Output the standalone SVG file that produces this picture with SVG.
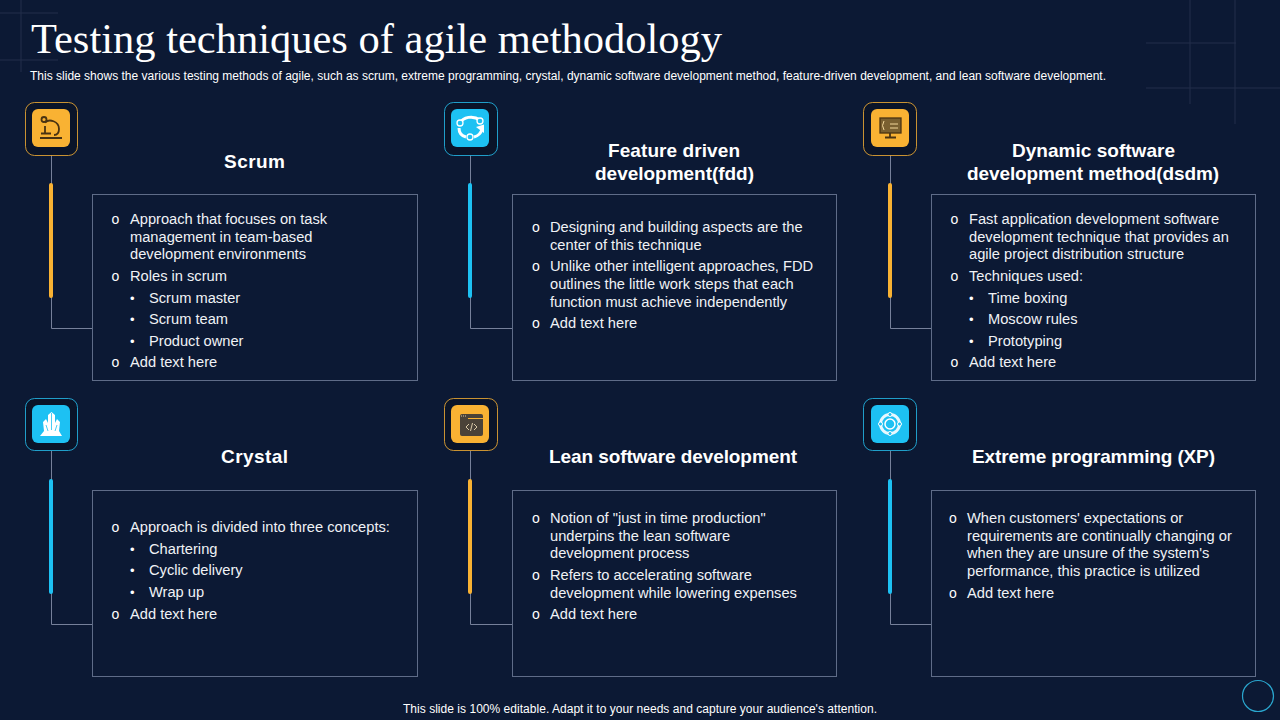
<svg xmlns="http://www.w3.org/2000/svg" width="1280" height="720" viewBox="0 0 1280 720">
<style>
text{font-family:"Liberation Sans",Arial,sans-serif;fill:#fff}
.t{font-size:14.67px;fill:#f0f2f6}
.o{font-size:14px;fill:#fff}
.b{font-size:13px;fill:#fff}
.h{font-size:19px;font-weight:bold}
.box{fill:none;stroke:#5f6c88;stroke-width:1}
.ln{fill:none;stroke:#76809a;stroke-width:1}
.bg{fill:none;stroke:#222f4a;stroke-width:1}
.oc{fill:#0a1429;stroke:#f9b233;stroke-width:1;stroke-opacity:.8}
.bc{fill:#0a1429;stroke:#25c0f0;stroke-width:1;stroke-opacity:.8}
.of{fill:#f9b233}
.bf{fill:#1dc1f3}
.di{fill:none;stroke:#4a3312;stroke-width:1.800}
.wi{fill:none;stroke:#fff;stroke-width:1.800}
</style>
<rect width="1280" height="720" fill="#0c1934"/>
<g id="decor">
<path class="bg" d="M0 13H58M0 60H58M21 0V72M1146 43H1236M1146 88H1280M1190 0V104M1235 0V124"/>
<circle cx="1258" cy="696" r="15.500" fill="none" stroke="#2aa7cf" stroke-width="1.200"/>
</g>
<g id="header">
<text x="31" y="53" font-size="42.5" style="font-family:'Liberation Serif',serif">Testing techniques of agile methodology</text>
<text x="30" y="80" font-size="12" textLength="1076" fill="#fff">This slide shows the various testing methods of agile, such as scrum, extreme programming, crystal, dynamic software development method, feature-driven development, and lean software development.</text>
</g>
<g id="connectors">
<path class="ln" d="M51.500 155V328.500H92M470.500 155V328.500H512M890.500 155V328.500H931M51.500 451V624.500H92M470.500 451V624.500H512M890.500 451V624.500H931"/>
<g>
<rect x="49" y="183" width="4" height="115" rx="2" class="of"/>
<rect x="468" y="183" width="4" height="115" rx="2" class="bf"/>
<rect x="888" y="183" width="4" height="115" rx="2" class="of"/>
<rect x="49" y="479" width="4" height="115" rx="2" class="bf"/>
<rect x="468" y="479" width="4" height="115" rx="2" class="of"/>
<rect x="888" y="479" width="4" height="115" rx="2" class="bf"/>
</g>
</g>
<g id="scrum">
<rect class="oc" x="25.500" y="102.500" width="52" height="53" rx="9"/>
<rect class="of" x="32" y="109" width="38" height="38" rx="6"/>
<path class="di" d="M40 138H62M41 133.500H51M45 133V126M45 122.500C49 118.500 59 121 59 129C59 133 57 135 54 135"/>
<circle class="di" cx="44" cy="119.500" r="2.500"/>
<text class="h" x="224" y="167.500" textLength="61">Scrum</text>
<rect class="box" x="92.500" y="194.500" width="325" height="186"/>
<text class="o" x="111.500" y="224">o</text><text class="t" x="130" y="224">Approach that focuses on task</text>
<text class="t" x="130" y="242">management in team-based</text>
<text class="t" x="130" y="259">development environments</text>
<text class="o" x="111.500" y="281">o</text><text class="t" x="130" y="281">Roles in scrum</text>
<text class="b" x="130" y="303">•</text><text class="t" x="149" y="303">Scrum master</text>
<text class="b" x="130" y="324">•</text><text class="t" x="149" y="324">Scrum team</text>
<text class="b" x="130" y="346">•</text><text class="t" x="149" y="346">Product owner</text>
<text class="o" x="111.500" y="367">o</text><text class="t" x="130" y="367">Add text here</text>
</g>
<g id="fdd">
<rect class="bc" x="444.500" y="102.500" width="53" height="53" rx="9"/>
<rect class="bf" x="451" y="109" width="38" height="38" rx="6"/>
<path fill="none" stroke="#fff" stroke-width="3" d="M460 123C463 117 473 115 480 120M459 128C459 133 462 136 466 137M474 137C478 136 481 133 482 129"/>
<path fill="#fff" d="M476 127L484 124.500L484 133Z"/>
<g fill="#1dc1f3" stroke="#fff" stroke-width="1.300"><circle cx="460" cy="123" r="3"/><circle cx="480" cy="121" r="3"/><circle cx="470" cy="137" r="3"/></g>
<text class="h" x="608" y="156.500" textLength="132">Feature driven</text>
<text class="h" x="595" y="179.500" textLength="159">development(fdd)</text>
<rect class="box" x="512.500" y="194.500" width="324" height="186"/>
<text class="o" x="532" y="232">o</text><text class="t" x="550" y="232">Designing and building aspects are the</text>
<text class="t" x="550" y="250">center of this technique</text>
<text class="o" x="532" y="271">o</text><text class="t" x="550" y="271">Unlike other intelligent approaches, FDD</text>
<text class="t" x="550" y="289">outlines the little work steps that each</text>
<text class="t" x="550" y="307">function must achieve independently</text>
<text class="o" x="532" y="328">o</text><text class="t" x="550" y="328">Add text here</text>
</g>
<g id="dsdm">
<rect class="oc" x="863.500" y="102.500" width="53" height="53" rx="9"/>
<rect class="of" x="871" y="109" width="38" height="38" rx="6"/>
<rect x="880" y="118" width="21" height="15" fill="#7a6030" stroke="#4a3312" stroke-width="1.300"/>
<path fill="none" stroke="#f3d79a" stroke-width="1" d="M884 121L882.500 125.500L884 130M890 124H898M890 128H898"/>
<path class="di" d="M890 133V137M885 137.500H896"/>
<text class="h" x="1012" y="156.500" textLength="163">Dynamic software</text>
<text class="h" x="967" y="179.500" textLength="252">development method(dsdm)</text>
<rect class="box" x="931.500" y="194.500" width="324" height="186"/>
<text class="o" x="950.500" y="224">o</text><text class="t" x="969" y="224">Fast application development software</text>
<text class="t" x="969" y="242">development technique that provides an</text>
<text class="t" x="969" y="259">agile project distribution structure</text>
<text class="o" x="950.500" y="281">o</text><text class="t" x="969" y="281">Techniques used:</text>
<text class="b" x="969" y="303">•</text><text class="t" x="988" y="303">Time boxing</text>
<text class="b" x="969" y="324">•</text><text class="t" x="988" y="324">Moscow rules</text>
<text class="b" x="969" y="346">•</text><text class="t" x="988" y="346">Prototyping</text>
<text class="o" x="950.500" y="367">o</text><text class="t" x="969" y="367">Add text here</text>
</g>
<g id="crystal">
<rect class="bc" x="25.500" y="398.500" width="52" height="52" rx="9"/>
<rect class="bf" x="32" y="405" width="38" height="38" rx="6"/>
<path fill="#fff" d="M40 436L44 431L43 422L46 419L48 423L48 415L51.500 412L55 415L55 423L57 419L60 422L59 431L62 436Z"/>
<path d="M51.500 413V430M46 425L48 431M57 425L55 431" stroke="#1dc1f3" stroke-width=".8" fill="none"/>
<text class="h" x="221" y="462.500" textLength="67">Crystal</text>
<rect class="box" x="92.500" y="490.500" width="325" height="186"/>
<text class="o" x="111.500" y="532">o</text><text class="t" x="130" y="532">Approach is divided into three concepts:</text>
<text class="b" x="130" y="554">•</text><text class="t" x="149" y="554">Chartering</text>
<text class="b" x="130" y="575">•</text><text class="t" x="149" y="575">Cyclic delivery</text>
<text class="b" x="130" y="597">•</text><text class="t" x="149" y="597">Wrap up</text>
<text class="o" x="111.500" y="619">o</text><text class="t" x="130" y="619">Add text here</text>
</g>
<g id="lean">
<rect class="oc" x="444.500" y="398.500" width="53" height="52" rx="9"/>
<rect class="of" x="451" y="405" width="38" height="38" rx="6"/>
<rect x="460" y="414" width="23" height="22" rx="2" fill="#4a4238"/>
<path d="M468 418.500H483" stroke="#f9b233" stroke-width="1"/>
<path d="M461 416H466" stroke="#d9c9a8" stroke-width="1" stroke-dasharray="1 1"/>
<path d="M469 424L466 427L469 430M474 424L477 427L474 430M472.500 423L470.500 431" stroke="#d9c9a8" stroke-width="1" fill="none"/>
<text class="h" x="549" y="462.500" textLength="248">Lean software development</text>
<rect class="box" x="512.500" y="490.500" width="324" height="186"/>
<text class="o" x="532" y="523">o</text><text class="t" x="550" y="523">Notion of "just in time production"</text>
<text class="t" x="550" y="541">underpins the lean software</text>
<text class="t" x="550" y="558">development process</text>
<text class="o" x="532" y="580">o</text><text class="t" x="550" y="580">Refers to accelerating software</text>
<text class="t" x="550" y="598">development while lowering expenses</text>
<text class="o" x="532" y="619">o</text><text class="t" x="550" y="619">Add text here</text>
</g>
<g id="xp">
<rect class="bc" x="863.500" y="398.500" width="53" height="52" rx="9"/>
<rect class="bf" x="871" y="405" width="38" height="38" rx="6"/>
<circle cx="890" cy="424" r="9.500" fill="none" stroke="#e8f8fe" stroke-width="3"/>
<circle cx="890" cy="424" r="5" fill="#1dc1f3" stroke="#fff" stroke-width="1.500"/>
<g fill="#1dc1f3" stroke="#fff" stroke-width="1"><circle cx="890" cy="414.500" r="2"/><circle cx="890" cy="433.500" r="2"/><circle cx="880.500" cy="424" r="2"/><circle cx="899.500" cy="424" r="2"/></g>
<text class="h" x="972" y="462.500" textLength="243">Extreme programming (XP)</text>
<rect class="box" x="931.500" y="490.500" width="324" height="186"/>
<text class="o" x="949" y="523">o</text><text class="t" x="967" y="523">When customers' expectations or</text>
<text class="t" x="967" y="541">requirements are continually changing or</text>
<text class="t" x="967" y="558">when they are unsure of the system's</text>
<text class="t" x="967" y="576">performance, this practice is utilized</text>
<text class="o" x="949" y="598">o</text><text class="t" x="967" y="598">Add text here</text>
</g>
<g id="footer">
<text x="403" y="713" font-size="12" textLength="474">This slide is 100% editable. Adapt it to your needs and capture your audience's attention.</text>
</g>
</svg>
